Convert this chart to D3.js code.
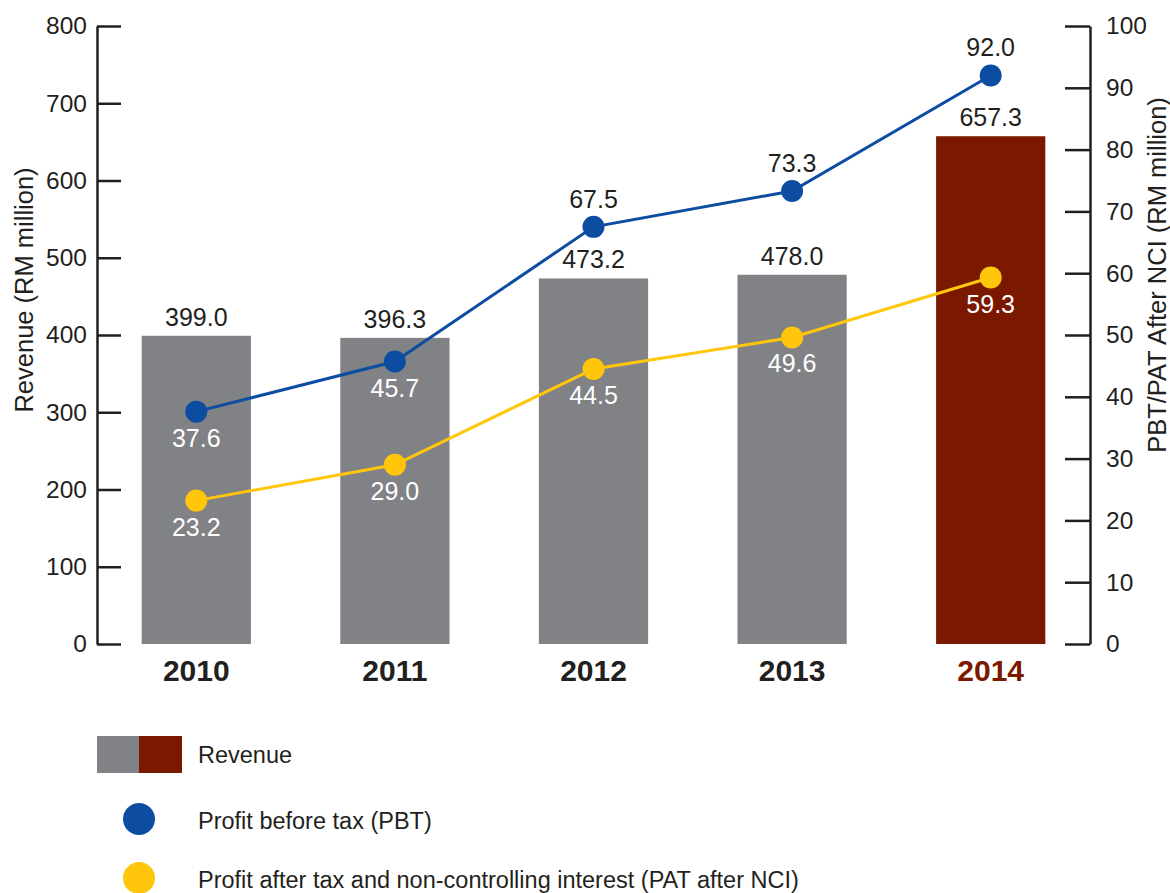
<!DOCTYPE html>
<html>
<head>
<meta charset="utf-8">
<script src="https://cdn.jsdelivr.net/npm/d3@7"></script>
<style>
  html, body { margin: 0; padding: 0; background: #ffffff; }
  svg { display: block; font-family: "Liberation Sans", Arial, Helvetica, sans-serif; }
</style>
</head>
<body>
<svg id="chart" width="1170" height="893"></svg>
<script>
// ---- data ----
const years = ["2010", "2011", "2012", "2013", "2014"];
const revenue = [399.0, 396.3, 473.2, 478.0, 657.3];
const pbt = [37.6, 45.7, 67.5, 73.3, 92.0];
const patNci = [23.2, 29.0, 44.5, 49.6, 59.3];
const leftTicks = [0, 100, 200, 300, 400, 500, 600, 700, 800];
const rightTicks = [0, 10, 20, 30, 40, 50, 60, 70, 80, 90, 100];
// label placement for PBT points: "above" or "below"
const pbtLabelPos = ["below", "below", "above", "above", "above"];
const legendLabels = ["Revenue", "Profit before tax (PBT)", "Profit after tax and non-controlling interest (PAT after NCI)"];

// ---- style ----
const C = {
  text: "#231f20",
  bar: "#818285",
  barHi: "#7a1800",
  blue: "#0c4da2",
  yellow: "#ffc60b"
};

const svg = d3.select("#chart");

const x = d3.scaleBand().domain(years).range([97, 1090]).paddingInner(0.45).paddingOuter(0.225);
const yL = d3.scaleLinear().domain([0, 800]).range([644, 26]);
const yR = d3.scaleLinear().domain([0, 100]).range([644, 26]);
const cx = d => x(d) + x.bandwidth() / 2;
const isLast = i => i === years.length - 1;

// bars
svg.append("g").selectAll("rect").data(revenue).join("rect")
  .attr("x", (d, i) => x(years[i]))
  .attr("y", d => yL(d))
  .attr("width", x.bandwidth())
  .attr("height", d => yL(0) - yL(d))
  .attr("fill", (d, i) => isLast(i) ? C.barHi : C.bar);

// bar labels
svg.append("g").selectAll("text").data(revenue).join("text")
  .attr("x", (d, i) => cx(years[i]))
  .attr("y", d => yL(d) - 10)
  .attr("text-anchor", "middle")
  .attr("font-size", 25)
  .attr("fill", C.text)
  .text(d => d.toFixed(1));

// axes
const axL = d3.axisLeft(yL).tickValues(leftTicks).tickSizeInner(-24).tickSizeOuter(0).tickPadding(10);
const gL = svg.append("g").attr("transform", "translate(97,0)").call(axL);
const axR = d3.axisRight(yR).tickValues(rightTicks).tickSizeInner(-25).tickSizeOuter(0).tickPadding(16);
const gR = svg.append("g").attr("transform", "translate(1090,0)").call(axR);
[gL, gR].forEach(g => {
  g.select(".domain").attr("stroke", C.text).attr("stroke-width", 2.5);
  g.selectAll(".tick line").attr("stroke", C.text).attr("stroke-width", 2.5);
  g.selectAll(".tick text").attr("fill", C.text).attr("font-size", 24.5)
    .attr("font-family", "Liberation Sans, Arial, sans-serif");
});

// x labels
svg.append("g").selectAll("text").data(years).join("text")
  .attr("x", d => cx(d))
  .attr("y", 681)
  .attr("text-anchor", "middle")
  .attr("font-size", 30)
  .attr("font-weight", "bold")
  .attr("fill", (d, i) => isLast(i) ? C.barHi : C.text)
  .text(d => d);

// axis titles
svg.append("text")
  .attr("transform", "translate(33,290) rotate(-90)")
  .attr("text-anchor", "middle")
  .attr("font-size", 25.5)
  .attr("fill", C.text)
  .text("Revenue (RM million)");
svg.append("text")
  .attr("transform", "translate(1166,275) rotate(-90)")
  .attr("text-anchor", "middle")
  .attr("font-size", 25.5)
  .attr("fill", C.text)
  .text("PBT/PAT After NCI (RM million)");

// lines
const line = d3.line().x((d, i) => cx(years[i])).y(d => yR(d));
svg.append("path").datum(pbt).attr("d", line).attr("fill", "none").attr("stroke", C.blue).attr("stroke-width", 3);
svg.append("path").datum(patNci).attr("d", line).attr("fill", "none").attr("stroke", C.yellow).attr("stroke-width", 3);

// points
svg.append("g").selectAll("circle").data(pbt).join("circle")
  .attr("cx", (d, i) => cx(years[i])).attr("cy", d => yR(d)).attr("r", 11).attr("fill", C.blue);
svg.append("g").selectAll("circle").data(patNci).join("circle")
  .attr("cx", (d, i) => cx(years[i])).attr("cy", d => yR(d)).attr("r", 11).attr("fill", C.yellow);

// point labels
svg.append("g").selectAll("text").data(pbt).join("text")
  .attr("x", (d, i) => cx(years[i]))
  .attr("y", (d, i) => pbtLabelPos[i] === "above" ? yR(d) - 19 : yR(d) + 35)
  .attr("text-anchor", "middle")
  .attr("font-size", 25)
  .attr("fill", (d, i) => pbtLabelPos[i] === "above" ? C.text : "#ffffff")
  .text(d => d.toFixed(1));
svg.append("g").selectAll("text").data(patNci).join("text")
  .attr("x", (d, i) => cx(years[i]))
  .attr("y", d => yR(d) + 35)
  .attr("text-anchor", "middle")
  .attr("font-size", 25)
  .attr("fill", "#ffffff")
  .text(d => d.toFixed(1));

// legend
const lg = svg.append("g");
lg.append("rect").attr("x", 97).attr("y", 736).attr("width", 42).attr("height", 37).attr("fill", C.bar);
lg.append("rect").attr("x", 139).attr("y", 736).attr("width", 43).attr("height", 37).attr("fill", C.barHi);
lg.append("circle").attr("cx", 139).attr("cy", 819).attr("r", 16).attr("fill", C.blue);
lg.append("circle").attr("cx", 139).attr("cy", 878).attr("r", 16).attr("fill", C.yellow);
const legY = [755, 821, 880];
lg.selectAll("text").data(legendLabels).join("text")
  .attr("x", 198)
  .attr("y", (d, i) => legY[i])
  .attr("dy", "0.35em")
  .attr("font-size", 23.5)
  .attr("fill", C.text)
  .text(d => d);
</script>
</body>
</html>
